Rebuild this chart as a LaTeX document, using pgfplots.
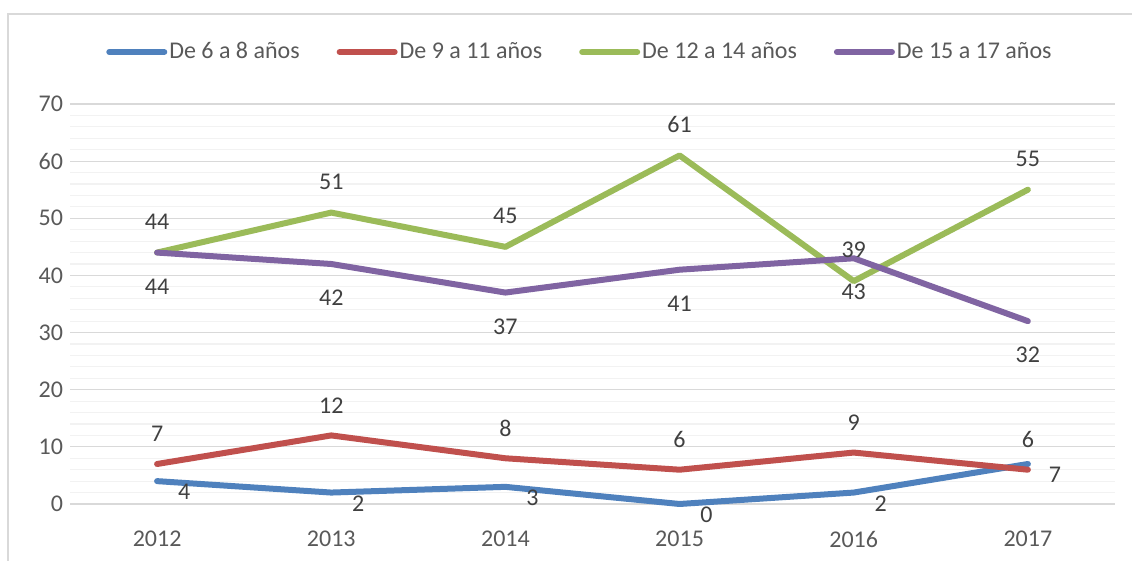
\documentclass[border=0pt]{standalone}
\usepackage{pgfplots}
\pgfplotsset{compat=1.18}
\usepackage{fontspec}
\setmainfont{Carlito}
\definecolor{cBlue}{HTML}{4F81BD}
\definecolor{cRed}{HTML}{C0504D}
\definecolor{cGreen}{HTML}{9BBB59}
\definecolor{cPurple}{HTML}{8064A2}
\definecolor{gridmaj}{HTML}{D9D9D9}
\definecolor{gridmin}{HTML}{F2F2F2}
\definecolor{labgray}{HTML}{595959}
\definecolor{datagray}{HTML}{404040}
\begin{document}
\begin{tikzpicture}[x=1pt,y=1pt]
\useasboundingbox (0,0) rectangle (566,280.5);
\draw[color=gridmaj, line width=0.9pt] (4,-20) rectangle (590,273.5);
\begin{axis}[
  at={(35pt,28.5pt)}, anchor=south west,
  scale only axis, width=522.5pt, height=200pt,
  xmin=-0.5, xmax=5.5, ymin=0, ymax=70,
  xtick={0,1,2,3,4,5}, xticklabels={2012,2013,2014,2015,2016,2017},
  ytick={0,10,...,70}, minor y tick num=4,
  ymajorgrids, yminorgrids,
  major grid style={color=gridmaj, line width=0.6pt},
  minor grid style={color=gridmin, line width=0.6pt},
  axis line style={draw=none},
  major tick length=0pt, minor tick length=0pt,
  /pgf/number format/assume math mode=true,
  tick label style={font=\fontsize{12}{14}\selectfont, text=labgray},
  xticklabel style={yshift=-10pt},
  clip=false,
  legend columns=4,
  legend cell align=left,
  legend style={at={(0.488,1.13)}, anchor=center, draw=none, fill=none,
    font=\fontsize{12}{14}\selectfont, text=labgray,
    nodes={inner xsep=1pt},
    /tikz/every even column/.append style={column sep=17.5pt}},
  legend image code/.code={\draw[#1, line cap=round] (0pt,0pt) -- (27.5pt,0pt);},
  every axis plot/.append style={line width=3pt, line join=round, line cap=round},
  nodes near coords,
  every node near coord/.append style={font=\fontsize{12}{14}\selectfont, text=datagray, anchor=center},
]
\addplot[cBlue, every node near coord/.append style={xshift=13.5pt, yshift=-5.5pt}]
  coordinates {(0,4) (1,2) (2,3) (3,0) (4,2) (5,7)};
\addlegendentry{De 6 a 8 años}
\addplot[cRed, every node near coord/.append style={yshift=15pt}]
  coordinates {(0,7) (1,12) (2,8) (3,6) (4,9) (5,6)};
\addlegendentry{De 9 a 11 años}
\addplot[cGreen, every node near coord/.append style={yshift=15.5pt}]
  coordinates {(0,44) (1,51) (2,45) (3,61) (4,39) (5,55)};
\addlegendentry{De 12 a 14 años}
\addplot[cPurple, every node near coord/.append style={yshift=-17pt}]
  coordinates {(0,44) (1,42) (2,37) (3,41) (4,43) (5,32)};
\addlegendentry{De 15 a 17 años}
\end{axis}
\end{tikzpicture}
\end{document}
